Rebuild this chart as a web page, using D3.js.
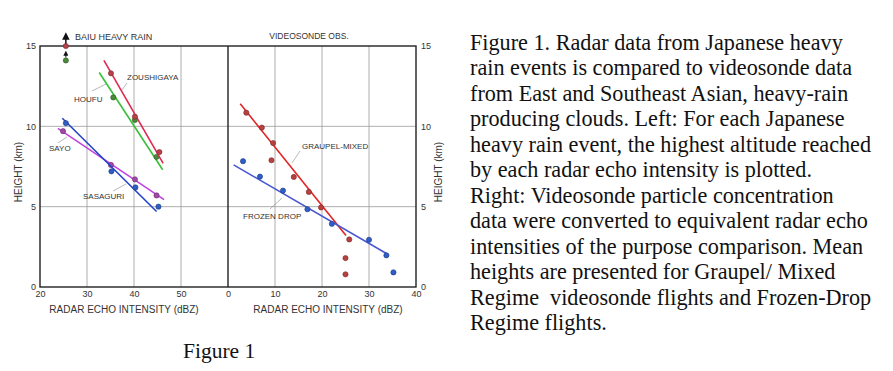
<!DOCTYPE html>
<html>
<head>
<meta charset="utf-8">
<script src="https://cdn.jsdelivr.net/npm/d3@7"></script>
<style>
  body { margin: 0; background: #fff; }
  svg { display: block; }
  .lab { font-family: "Liberation Sans", Arial, sans-serif; fill: #333; }
  .cap { font-family: "Liberation Serif", "Times New Roman", serif; fill: #111; white-space: pre; }
</style>
</head>
<body>
<svg id="fig" width="893" height="371"></svg>
<script>
// left panel: Baiu heavy rain radar data (dBZ, km)
var zoushigayaX = [25.5, 35.1, 40.2, 45.4],
    zoushigayaY = [15.0, 13.3, 10.6, 8.4],
    houfuX = [25.5, 35.6, 40.2, 44.8],
    houfuY = [14.1, 11.8, 10.4, 8.1],
    sasaguriX = [25.5, 35.2, 40.3, 45.2],
    sasaguriY = [10.2, 7.2, 6.2, 5.0],
    sayoX = [24.9, 35.1, 40.2, 44.8],
    sayoY = [9.7, 7.6, 6.7, 5.7];

// fitted lines (end points)
var zoushigayaFit = [[33.6, 14.1], [46.2, 7.7]],
    houfuFit = [[32.6, 13.35], [46.1, 7.3]],
    sasaguriFit = [[24.75, 10.5], [44.8, 4.7]],
    sayoFit = [[23.8, 9.87], [46.4, 5.44]];

// right panel: videosonde observations
var graupelX = [3.9, 7.2, 9.6, 9.25, 14.0, 17.2, 19.8, 25.8, 25.0, 25.0],
    graupelY = [10.85, 9.92, 8.96, 7.89, 6.85, 5.92, 4.95, 2.96, 1.8, 0.79],
    frozenX = [3.2, 6.8, 11.7, 16.9, 22.1, 30.0, 33.7, 35.2],
    frozenY = [7.83, 6.87, 6.0, 4.84, 3.93, 2.94, 1.97, 0.91],
    graupelFit = [[2.6, 11.4], [25.1, 3.2]],
    frozenFit = [[1.2, 7.6], [33.8, 2.07]];

var leftTicks = [20, 30, 40, 50],
    rightTicks = [0, 10, 20, 30, 40],
    heightTicks = [0, 5, 10, 15];

var caption = [
  "Figure 1. Radar data from Japanese heavy",
  "rain events is compared to videosonde data",
  "from East and Southeast Asian, heavy-rain",
  "producing clouds. Left: For each Japanese",
  "heavy rain event, the highest altitude reached",
  "by each radar echo intensity is plotted.",
  "Right: Videosonde particle concentration",
  "data were converted to equivalent radar echo",
  "intensities of the purpose comparison. Mean",
  "heights are presented for Graupel/ Mixed",
  "Regime  videosonde flights and Frozen-Drop",
  "Regime flights."
];

var svg = d3.select("#fig");
svg.append("rect").attr("width", 893).attr("height", 371).attr("fill", "#fff");

var xL = d3.scaleLinear().domain([20, 60]).range([40, 228]),
    xR = d3.scaleLinear().domain([0, 40]).range([228, 416]),
    y = d3.scaleLinear().domain([0, 15]).range([287, 46]);

// grid
var grid = svg.append("g").attr("stroke", "#9a9a9a").attr("stroke-width", 0.8);
[30, 40, 50].forEach(function(v) {
  grid.append("line").attr("x1", xL(v)).attr("x2", xL(v)).attr("y1", y(0)).attr("y2", y(15));
});
[10, 20, 30].forEach(function(v) {
  grid.append("line").attr("x1", xR(v)).attr("x2", xR(v)).attr("y1", y(0)).attr("y2", y(15));
});
[5, 10].forEach(function(v) {
  grid.append("line").attr("x1", xL(20)).attr("x2", xR(40)).attr("y1", y(v)).attr("y2", y(v));
});

// frame
var frame = svg.append("g").attr("stroke", "#222").attr("stroke-width", 1.4).attr("fill", "none");
frame.append("rect").attr("x", xL(20)).attr("y", y(15)).attr("width", xR(40) - xL(20)).attr("height", y(0) - y(15));
frame.append("line").attr("x1", xR(0)).attr("x2", xR(0)).attr("y1", y(0)).attr("y2", y(15));

// axes (labels only)
function tidy(g) {
  g.select(".domain").remove();
  g.selectAll(".tick line").remove();
  g.selectAll("text").attr("font-family", "Liberation Sans, Arial, sans-serif").attr("font-size", 9).attr("fill", "#333");
}
svg.append("g").attr("transform", "translate(0," + y(0) + ")")
  .call(d3.axisBottom(xL).tickValues(leftTicks).tickSize(0).tickPadding(4)).call(tidy);
svg.append("g").attr("transform", "translate(0," + y(0) + ")")
  .call(d3.axisBottom(xR).tickValues(rightTicks).tickSize(0).tickPadding(4)).call(tidy);
svg.append("g").attr("transform", "translate(" + xL(20) + ",0)")
  .call(d3.axisLeft(y).tickValues(heightTicks).tickSize(0).tickPadding(4)).call(tidy);
svg.append("g").attr("transform", "translate(" + xR(40) + ",0)")
  .call(d3.axisRight(y).tickValues(heightTicks).tickSize(0).tickPadding(5)).call(tidy);

// axis titles
svg.append("text").attr("class", "lab").attr("x", 124).attr("y", 313).attr("text-anchor", "middle")
  .attr("font-size", 10).text("RADAR ECHO INTENSITY (dBZ)");
svg.append("text").attr("class", "lab").attr("x", 328).attr("y", 313).attr("text-anchor", "middle")
  .attr("font-size", 10).text("RADAR ECHO INTENSITY (dBZ)");
svg.append("text").attr("class", "lab").attr("transform", "translate(22,172) rotate(-90)")
  .attr("text-anchor", "middle").attr("font-size", 10).text("HEIGHT (km)");
svg.append("text").attr("class", "lab").attr("transform", "translate(442,172) rotate(-90)")
  .attr("text-anchor", "middle").attr("font-size", 10).text("HEIGHT (km)");
svg.append("text").attr("class", "lab").attr("x", 75).attr("y", 40).attr("font-size", 9).text("BAIU HEAVY RAIN");
svg.append("text").attr("class", "lab").attr("x", 309).attr("y", 39).attr("text-anchor", "middle")
  .attr("font-size", 8.5).text("VIDEOSONDE OBS.");

// arrows above the off-scale point
svg.append("defs").append("marker").attr("id", "ah").attr("viewBox", "0 0 10 10")
  .attr("refX", 5).attr("refY", 5).attr("markerWidth", 5).attr("markerHeight", 5).attr("orient", "auto")
  .append("path").attr("d", "M0,0L10,5L0,10z").attr("fill", "#111");
svg.append("line").attr("x1", xL(25.5)).attr("x2", xL(25.5)).attr("y1", y(15)).attr("y2", y(15) - 10)
  .attr("stroke", "#111").attr("stroke-width", 1.5).attr("marker-end", "url(#ah)");
svg.append("line").attr("x1", xL(25.5)).attr("x2", xL(25.5)).attr("y1", y(14.1) - 3).attr("y2", y(14.55))
  .attr("stroke", "#111").attr("stroke-width", 1).attr("marker-end", "url(#ah)");

function series(xs, xArr, yArr, fit, lineColor, dotColor, dotStroke) {
  svg.append("line")
    .attr("x1", xs(fit[0][0])).attr("y1", y(fit[0][1]))
    .attr("x2", xs(fit[1][0])).attr("y2", y(fit[1][1]))
    .attr("stroke", lineColor).attr("stroke-width", 1.6);
  svg.append("g").selectAll("circle").data(xArr).join("circle")
    .attr("cx", function(d) { return xs(d); })
    .attr("cy", function(d, i) { return y(yArr[i]); })
    .attr("r", 2.6).attr("fill", dotColor).attr("stroke", dotStroke).attr("stroke-width", 0.6);
}

series(xL, houfuX, houfuY, houfuFit, "#38c038", "#4a8a3a", "#2d5a25");
series(xL, zoushigayaX, zoushigayaY, zoushigayaFit, "#dc2a52", "#b84048", "#7a2a30");
series(xL, sayoX, sayoY, sayoFit, "#c043e0", "#a04aa8", "#6a2a70");
series(xL, sasaguriX, sasaguriY, sasaguriFit, "#2244c8", "#2f5ec0", "#1a3a80");
series(xR, graupelX, graupelY, graupelFit, "#e02424", "#b84040", "#7a2a2a");
series(xR, frozenX, frozenY, frozenFit, "#4a58d0", "#2f5ec8", "#1a3a80");

// labels with leader lines
var labels = [
  { t: "ZOUSHIGAYA", x: 127, y: 80, l: [122, 90, 127, 83] },
  { t: "HOUFU", x: 74, y: 102, l: [92, 91, 106, 84] },
  { t: "SAYO", x: 49, y: 151, l: [58, 143, 67, 137] },
  { t: "SASAGURI", x: 83, y: 199, l: [113, 191, 126, 184] },
  { t: "GRAUPEL-MIXED", x: 302, y: 149, l: [292, 163, 300, 151] },
  { t: "FROZEN DROP", x: 243, y: 219, l: [270, 209, 282, 198] }
];
labels.forEach(function(d) {
  svg.append("line").attr("x1", d.l[0]).attr("y1", d.l[1]).attr("x2", d.l[2]).attr("y2", d.l[3])
    .attr("stroke", "#888").attr("stroke-width", 0.6);
  svg.append("text").attr("class", "lab").attr("x", d.x).attr("y", d.y).attr("font-size", 8).text(d.t);
});

// caption block
svg.append("g").selectAll("text").data(caption).join("text")
  .attr("class", "cap").attr("x", 470).attr("y", function(d, i) { return 50 + i * 25.45; })
  .attr("font-size", 22.2).text(function(d) { return d; });

svg.append("text").attr("class", "cap").attr("x", 183).attr("y", 358).attr("font-size", 21.5).text("Figure 1");
</script>
</body>
</html>
